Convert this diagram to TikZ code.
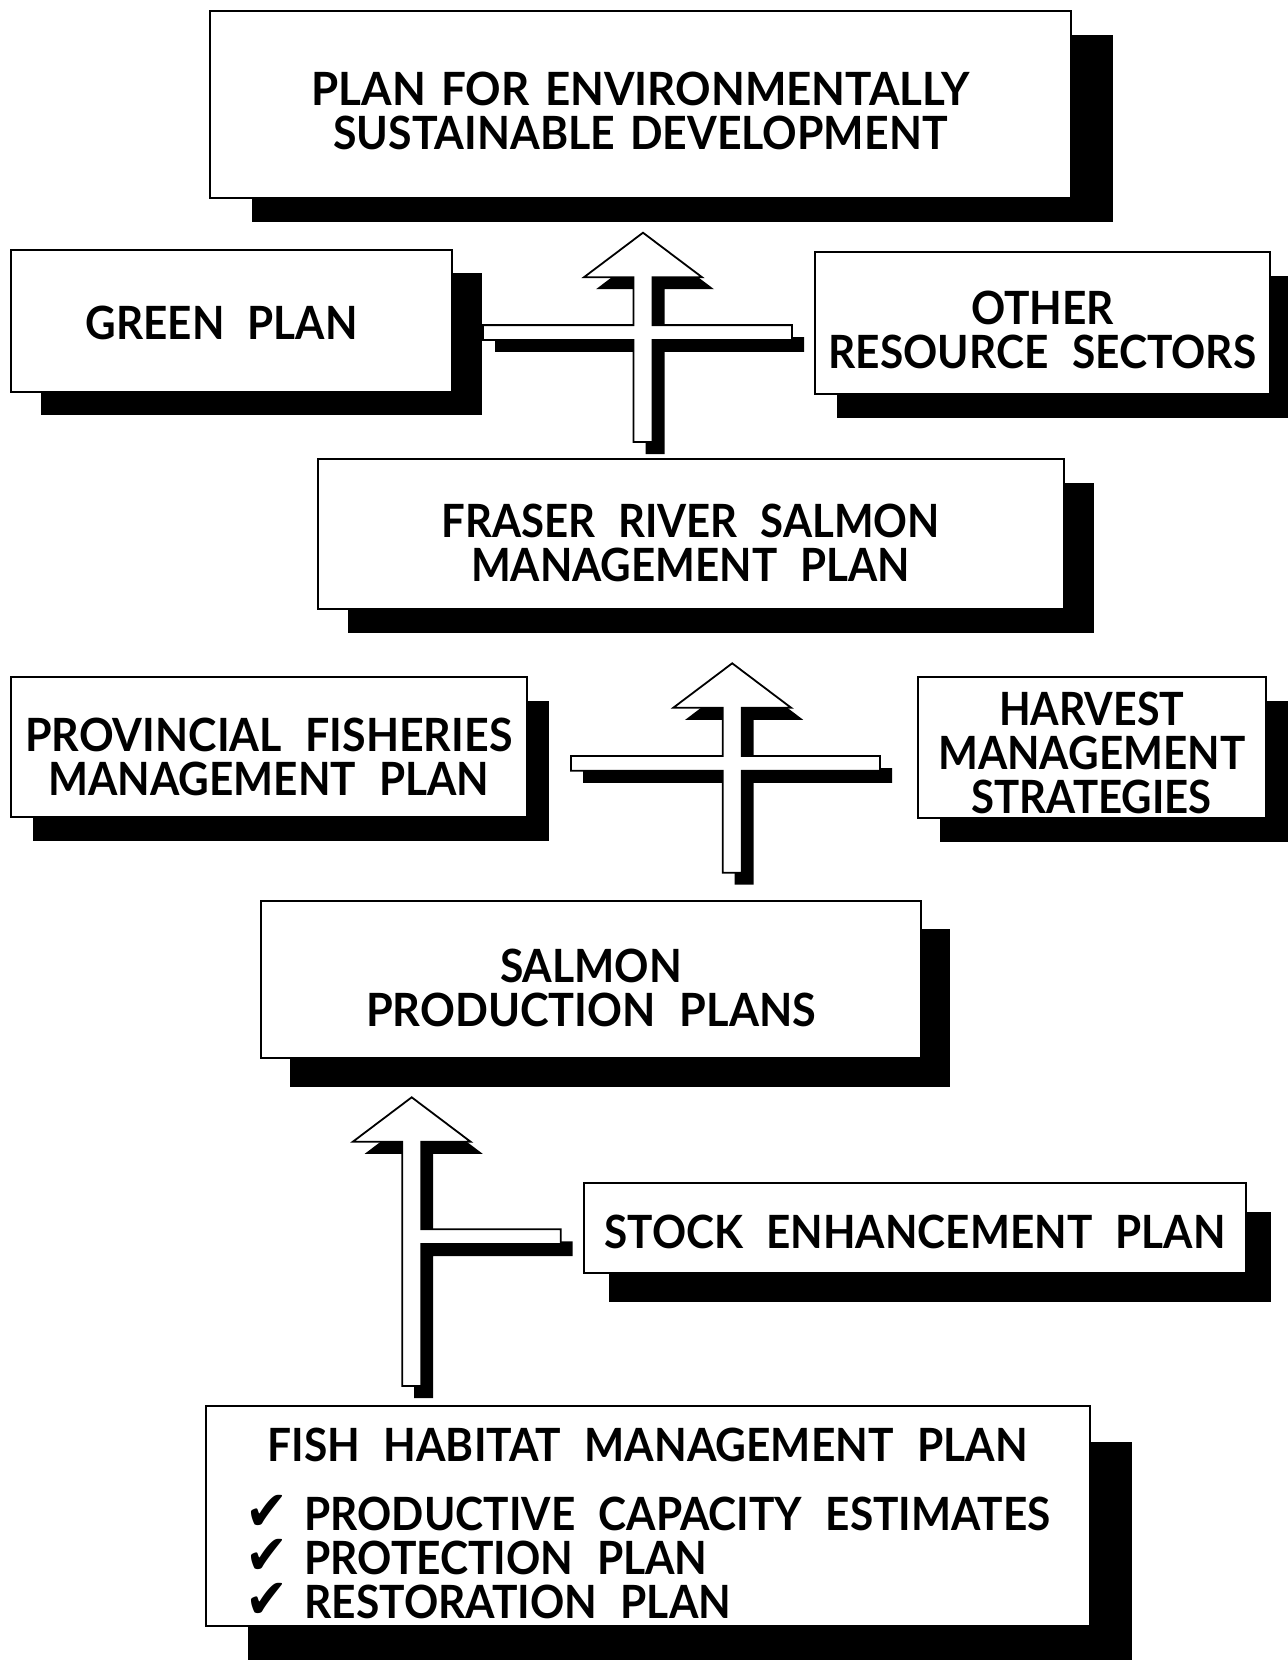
\documentclass[tikz,border=0pt]{standalone}
\usepackage{graphicx}
\usepackage{fontspec}
\setmainfont{Lato}
\newfontfamily\checkfont{DejaVu Sans}
\usetikzlibrary{calc,shadows}

\newcommand\planfont{\bfseries\fontsize{24}{22}\selectfont\spaceskip=.55em\relax}
\newcommand\capline[2]{\resizebox{#1}{16.75pt}{#2}}
\newcommand\tick{\makebox[29.3pt][l]{\raisebox{-0.3pt}{\resizebox{21.5pt}{17.6pt}{\checkfont ✔}}}}
% outline of a block arrow with side bars: tail, tip, bar left end, bar right end
\newcommand\crosspath[4]{let \p1=(#1), \p2=(#2), \p3=(#3), \p4=(#4) in
  (\x1,\y2) -- (\x1+29.5pt,\y2-22.25pt) -- (\x1+4.75pt,\y2-22.25pt)
  -- (\x1+4.75pt,\y3+3.7pt) -- (\x4,\y3+3.7pt) -- (\x4,\y3-3.7pt)
  -- (\x1+4.75pt,\y3-3.7pt) -- (\x1+4.75pt,\y1) -- (\x1-4.75pt,\y1)
  -- (\x1-4.75pt,\y3-3.7pt) -- (\x3,\y3-3.7pt) -- (\x3,\y3+3.7pt)
  -- (\x1-4.75pt,\y3+3.7pt) -- (\x1-4.75pt,\y2-22.25pt)
  -- (\x1-29.5pt,\y2-22.25pt) -- cycle}

\begin{document}
\begin{tikzpicture}[x=0.5pt, y=-0.5pt,
plan/.style = {draw, fill=white, line width=1pt, inner sep=0pt},
backing/.style 2 args = {% black offset shadow
drop shadow={shadow xshift=#1, shadow yshift=#2, fill=black, opacity=1}},
every label/.style = {font=\planfont, align=center, inner sep=0pt},
crossarrow/.style = {draw, fill=white, line width=0.9pt, line join=miter,
drop shadow={shadow xshift=6pt, shadow yshift=-6pt, fill=black, opacity=1}}]
\useasboundingbox (0,0) rectangle (1287,1660);

% boxes
\node[plan, minimum width=430.75pt, minimum height=93.65pt, backing={21pt}{-12pt},
  label={[yshift=-3.35pt, font={\planfont\spaceskip=.35em\relax}]center:{\capline{329pt}{PLAN FOR ENVIRONMENTALLY}\\
  \capline{307pt}{SUSTAINABLE DEVELOPMENT}}}] (esd) at (640.4,104.3) {};
\node[plan, minimum width=220.6pt, minimum height=70.9pt, backing={15pt}{-11.5pt},
  label={[xshift=-4.8pt, yshift=-1.1pt]center:{\capline{136pt}{GREEN PLAN}}}] (green) at (231.3,320.7) {};
\node[plan, minimum width=227.5pt, minimum height=70.9pt, backing={11pt}{-12pt},
  label={[yshift=-3.45pt]center:{\capline{71.5pt}{OTHER}\\
  \capline{213.8pt}{RESOURCE SECTORS}}}] (other) at (1042.5,322.8) {};
\node[plan, minimum width=373.1pt, minimum height=74.65pt, backing={15pt}{-12pt},
  label={[yshift=-4.5pt]center:{\capline{249.25pt}{FRASER RIVER SALMON}\\
  \capline{219.5pt}{MANAGEMENT PLAN}}}] (frsmp) at (690.6,534) {};
\node[plan, minimum width=258.25pt, minimum height=69.85pt, backing={11pt}{-12pt},
  label={[yshift=-5pt]center:{\capline{243.5pt}{PROVINCIAL FISHERIES}\\
  \capline{220.5pt}{MANAGEMENT PLAN}}}] (pfmp) at (268.9,747.3) {};
\node[plan, minimum width=174.1pt, minimum height=70.35pt, backing={11pt}{-12pt},
  label={[yshift=-2.5pt]center:{\capline{92.5pt}{HARVEST}\\
  \capline{153.5pt}{MANAGEMENT}\\\capline{120pt}{STRATEGIES}}}] (harvest) at (1091.7,747.8) {};
\node[plan, minimum width=329.7pt, minimum height=78.85pt, backing={14.5pt}{-14.3pt},
  label={[yshift=-4.25pt]center:{\capline{91pt}{SALMON}\\
  \capline{225pt}{PRODUCTION PLANS}}}] (spp) at (591.1,979.6) {};
\node[plan, minimum width=330.75pt, minimum height=45pt, backing={12.5pt}{-14.25pt},
  label={[yshift=-1.85pt]center:{\capline{310.5pt}{STOCK ENHANCEMENT PLAN}}}] (stock) at (915,1228.3) {};
\node[plan, minimum width=441.9pt, minimum height=110pt, backing={21pt}{-18pt},
  label={[yshift=-3.7pt, align=left]center:{\hspace*{10.8pt}\capline{380pt}{FISH HABITAT MANAGEMENT PLAN}\\[12.5pt]
  \tick\capline{373pt}{PRODUCTIVE CAPACITY ESTIMATES}\\
  \tick\capline{201.5pt}{PROTECTION PLAN}\\
  \tick\capline{213.3pt}{RESTORATION PLAN}}}] (fhmp) at (648.3,1515.7) {};

% arrow ends
\coordinate (a1-tail) at (643,442);     \coordinate (a1-tip) at (643,232.7);
\coordinate (a1-left) at (483,332.5);   \coordinate (a1-right) at (792,332.5);
\coordinate (a2-tail) at (732.2,872.7); \coordinate (a2-tip) at (732.2,663.3);
\coordinate (a2-left) at (571,763.4);   \coordinate (a2-right) at (880,763.4);
\coordinate (a3-tail) at (411.7,1386);  \coordinate (a3-tip) at (411.7,1097.3);
\coordinate (a3-left) at (402.2,1236.7);\coordinate (a3-right) at (560.7,1236.7);

% arrows
\draw[crossarrow] \crosspath{a1-tail}{a1-tip}{a1-left}{a1-right};
\draw[crossarrow] \crosspath{a2-tail}{a2-tip}{a2-left}{a2-right};
\draw[crossarrow] \crosspath{a3-tail}{a3-tip}{a3-left}{a3-right};
\end{tikzpicture}
\end{document}
